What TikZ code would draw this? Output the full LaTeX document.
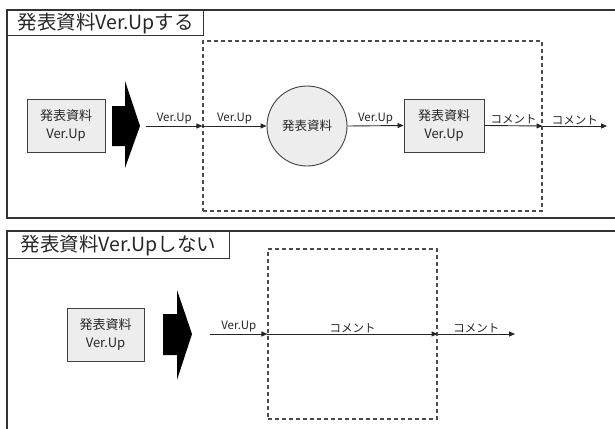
\documentclass[tikz,border=0pt]{standalone}
\usepackage{fontspec}
\setmainfont{Noto Sans CJK JP}
\usetikzlibrary{arrows.meta}

\begin{document}
\begin{tikzpicture}[x=1pt,y=-1pt,
  frame/.style={draw=black!80, line width=1.3pt},
  titlebox/.style={draw=black!80, line width=1.3pt, fill=white, anchor=north west,
    inner sep=0pt, text=black!85, font=\fontsize{19.5}{20}\selectfont},
  docbox/.style={draw=black!75, line width=0.9pt, fill=black!7, inner sep=0pt,
    minimum height=53pt, align=center, text=black!85, font=\fontsize{13}{18}\selectfont},
  docround/.style={circle, draw=black!75, line width=0.9pt, fill=black!7, inner sep=0pt,
    minimum size=80pt, text=black!85, font=\fontsize{12.5}{14}\selectfont},
  zone/.style={draw=black!70, dash pattern=on 4pt off 3pt, line width=1.1pt, inner sep=0pt},
  flow/.style={draw=black!85, line width=0.9pt, -{Triangle[length=6pt,width=5pt]}},
  lbl/.style={above, inner sep=1pt, text=black!85, font=\fontsize{11.5}{12}\selectfont},
  bigarrow/.style={fill=black}
]
\clip (0,0) rectangle (615,428);
\useasboundingbox (0,0) rectangle (615,428);

% ---------- upper panel ----------
\draw[frame] (7,10) rectangle (630,218);
\node[titlebox, minimum width=196pt, minimum height=25pt] (t1) at (7,10) {発表資料Ver.Upする};

\node[docbox, minimum width=78pt] (d1) at (66,125.5) {発表資料\\Ver.Up};
\fill[bigarrow] (112,106) -- (125,106) -- (125,81) -- (140,126) -- (125,168)
  -- (125,146) -- (112,146) -- cycle;
\coordinate (s1) at (146,126);

\node[zone, minimum width=339pt, minimum height=170pt] (z1) at (372.5,126) {};
\node[docround] (c1) at (307,126) {発表資料};
\node[docbox, minimum width=80pt] (d2) at (444,125.5) {発表資料\\Ver.Up};
\coordinate (e1) at (607,126);

\draw[flow] (s1) -- node[lbl] {Ver.Up} (z1.west);
\draw[flow] (z1.west) -- node[lbl] {Ver.Up} (c1.west);
\draw[flow] (c1.east) -- node[lbl] {Ver.Up} (d2.west);
\draw[flow] (d2.east) -- node[lbl] {コメント} (z1.east);
\draw[flow] (z1.east) -- node[lbl] {コメント} (e1);

% ---------- lower panel ----------
\draw[frame] (7,231) rectangle (630,440);
\node[titlebox, minimum width=222pt, minimum height=27pt] (t2) at (7,231) {発表資料Ver.Upしない};

\node[docbox, minimum width=77pt] (d3) at (105.5,334.5) {発表資料\\Ver.Up};
\fill[bigarrow] (163,314) -- (177,314) -- (177,290) -- (192,334) -- (177,380)
  -- (177,355) -- (163,355) -- cycle;
\coordinate (s2) at (210,334);

\node[zone, minimum width=169pt, minimum height=170pt] (z2) at (352.5,334) {};
\coordinate (e2) at (515,334);

\draw[flow] (s2) -- node[lbl] {Ver.Up} (z2.west);
\draw[flow] (z2.west) -- node[lbl] {コメント} (z2.east);
\draw[flow] (z2.east) -- node[lbl] {コメント} (e2);
\end{tikzpicture}
\end{document}
